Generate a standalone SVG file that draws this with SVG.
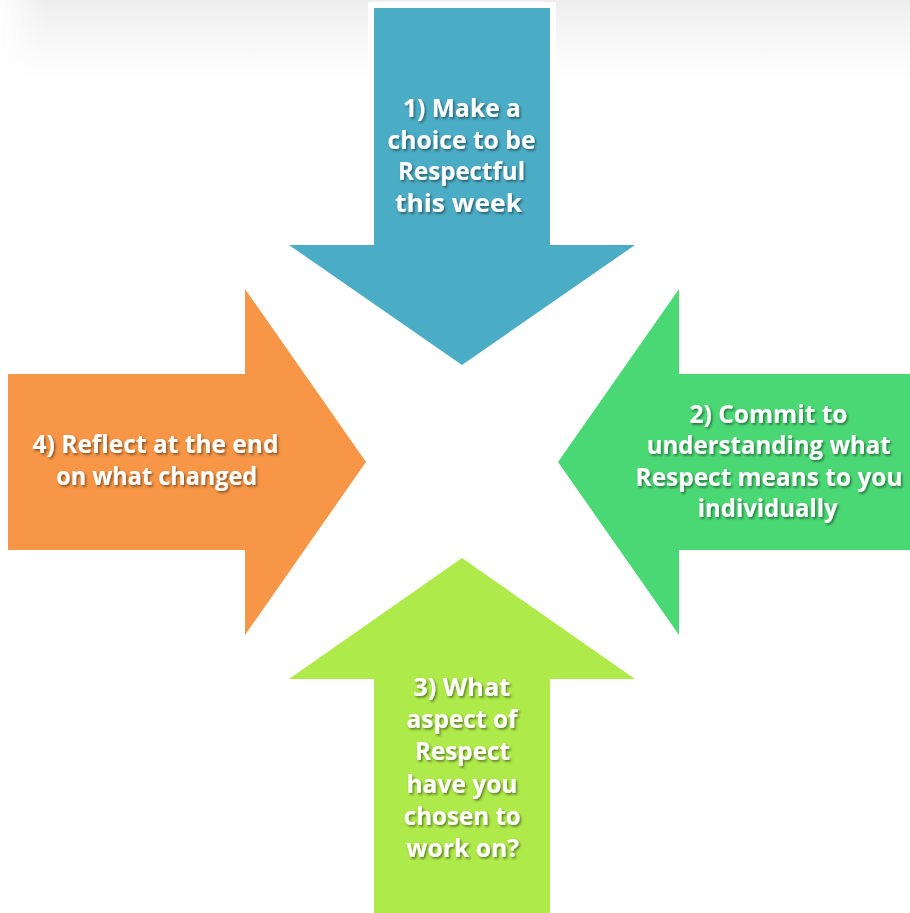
<svg xmlns="http://www.w3.org/2000/svg" width="910" height="913" viewBox="0 0 910 913">
  <defs>
    <linearGradient id="haze" x1="0" y1="0" x2="0" y2="1">
      <stop offset="0" stop-color="#eeeeee"/>
      <stop offset="0.35" stop-color="#f4f4f4"/>
      <stop offset="1" stop-color="#ffffff"/>
    </linearGradient>
    <linearGradient id="hazeEdge" x1="0" y1="0" x2="1" y2="0">
      <stop offset="0" stop-color="#ffffff" stop-opacity="0.9"/>
      <stop offset="1" stop-color="#ffffff" stop-opacity="0"/>
    </linearGradient>
    <filter id="shadow" x="-10%" y="-20%" width="120%" height="140%">
      <feDropShadow dx="1.5" dy="1.8" stdDeviation="1" flood-color="#000000" flood-opacity="0.45"/>
    </filter>
    <style>
      .lbl { font-family: "Open Sans", Lato, "Liberation Sans", sans-serif; font-weight: 700; font-size: 25px; fill: #ffffff; text-anchor: middle; filter: url(#shadow); }
      .blue { fill: #4bacc6; }
      .green { fill: #4ad874; }
      .lime { fill: #aeea4a; }
      .orange { fill: #f79646; }
    </style>
  </defs>

  <!-- page background with soft grey haze along the top edge -->
  <rect x="0" y="0" width="910" height="913" fill="#ffffff"/>
  <rect x="0" y="0" width="910" height="80" fill="url(#haze)"/>
  <rect x="0" y="0" width="45" height="80" fill="url(#hazeEdge)"/>
  <rect x="368" y="2" width="188" height="80" fill="#ffffff"/>

  <!-- step 1: arrow pointing down -->
  <g id="step1">
    <path class="blue" d="M374,8 H550 V245 H635 L462,365 L289,245 H374 Z"/>
    <text class="lbl" x="462" y="116.5" textLength="118" lengthAdjust="spacingAndGlyphs">1) Make a</text>
    <text class="lbl" x="461.5" y="148.5" textLength="148" lengthAdjust="spacingAndGlyphs">choice to be</text>
    <text class="lbl" x="461.5" y="180" textLength="127" lengthAdjust="spacingAndGlyphs">Respectful</text>
    <text class="lbl" x="458.5" y="211.5" textLength="127" lengthAdjust="spacingAndGlyphs">this week</text>
  </g>

  <!-- step 2: arrow pointing left -->
  <g id="step2">
    <path class="green" d="M912,374 V550 H679 V635 L558,462 L679,289 V374 Z"/>
    <text class="lbl" x="768.5" y="422.5" textLength="158" lengthAdjust="spacingAndGlyphs">2) Commit to</text>
    <text class="lbl" x="768.7" y="454" textLength="244" lengthAdjust="spacingAndGlyphs">understanding what</text>
    <text class="lbl" x="769" y="485.7" textLength="267" lengthAdjust="spacingAndGlyphs">Respect means to you</text>
    <text class="lbl" x="767.7" y="517.3" textLength="140" lengthAdjust="spacingAndGlyphs">individually</text>
  </g>

  <!-- step 3: arrow pointing up -->
  <g id="step3">
    <path class="lime" d="M374,915 V679 H289 L462,558 L635,679 H550 V915 Z"/>
    <text class="lbl" x="461.7" y="695.7" textLength="97" lengthAdjust="spacingAndGlyphs">3) What</text>
    <text class="lbl" x="462" y="728" textLength="111" lengthAdjust="spacingAndGlyphs">aspect of</text>
    <text class="lbl" x="462.5" y="760" textLength="95" lengthAdjust="spacingAndGlyphs">Respect</text>
    <text class="lbl" x="462" y="792.5" textLength="111" lengthAdjust="spacingAndGlyphs">have you</text>
    <text class="lbl" x="462.3" y="825" textLength="117" lengthAdjust="spacingAndGlyphs">chosen to</text>
    <text class="lbl" x="462.7" y="856.7" textLength="113" lengthAdjust="spacingAndGlyphs">work on?</text>
  </g>

  <!-- step 4: arrow pointing right -->
  <g id="step4">
    <path class="orange" d="M8,374 H245 V289 L366,462 L245,635 V550 H8 Z"/>
    <text class="lbl" x="155.5" y="453.3" textLength="246" lengthAdjust="spacingAndGlyphs">4) Reflect at the end</text>
    <text class="lbl" x="156.7" y="485" textLength="201" lengthAdjust="spacingAndGlyphs">on what changed</text>
  </g>
</svg>
